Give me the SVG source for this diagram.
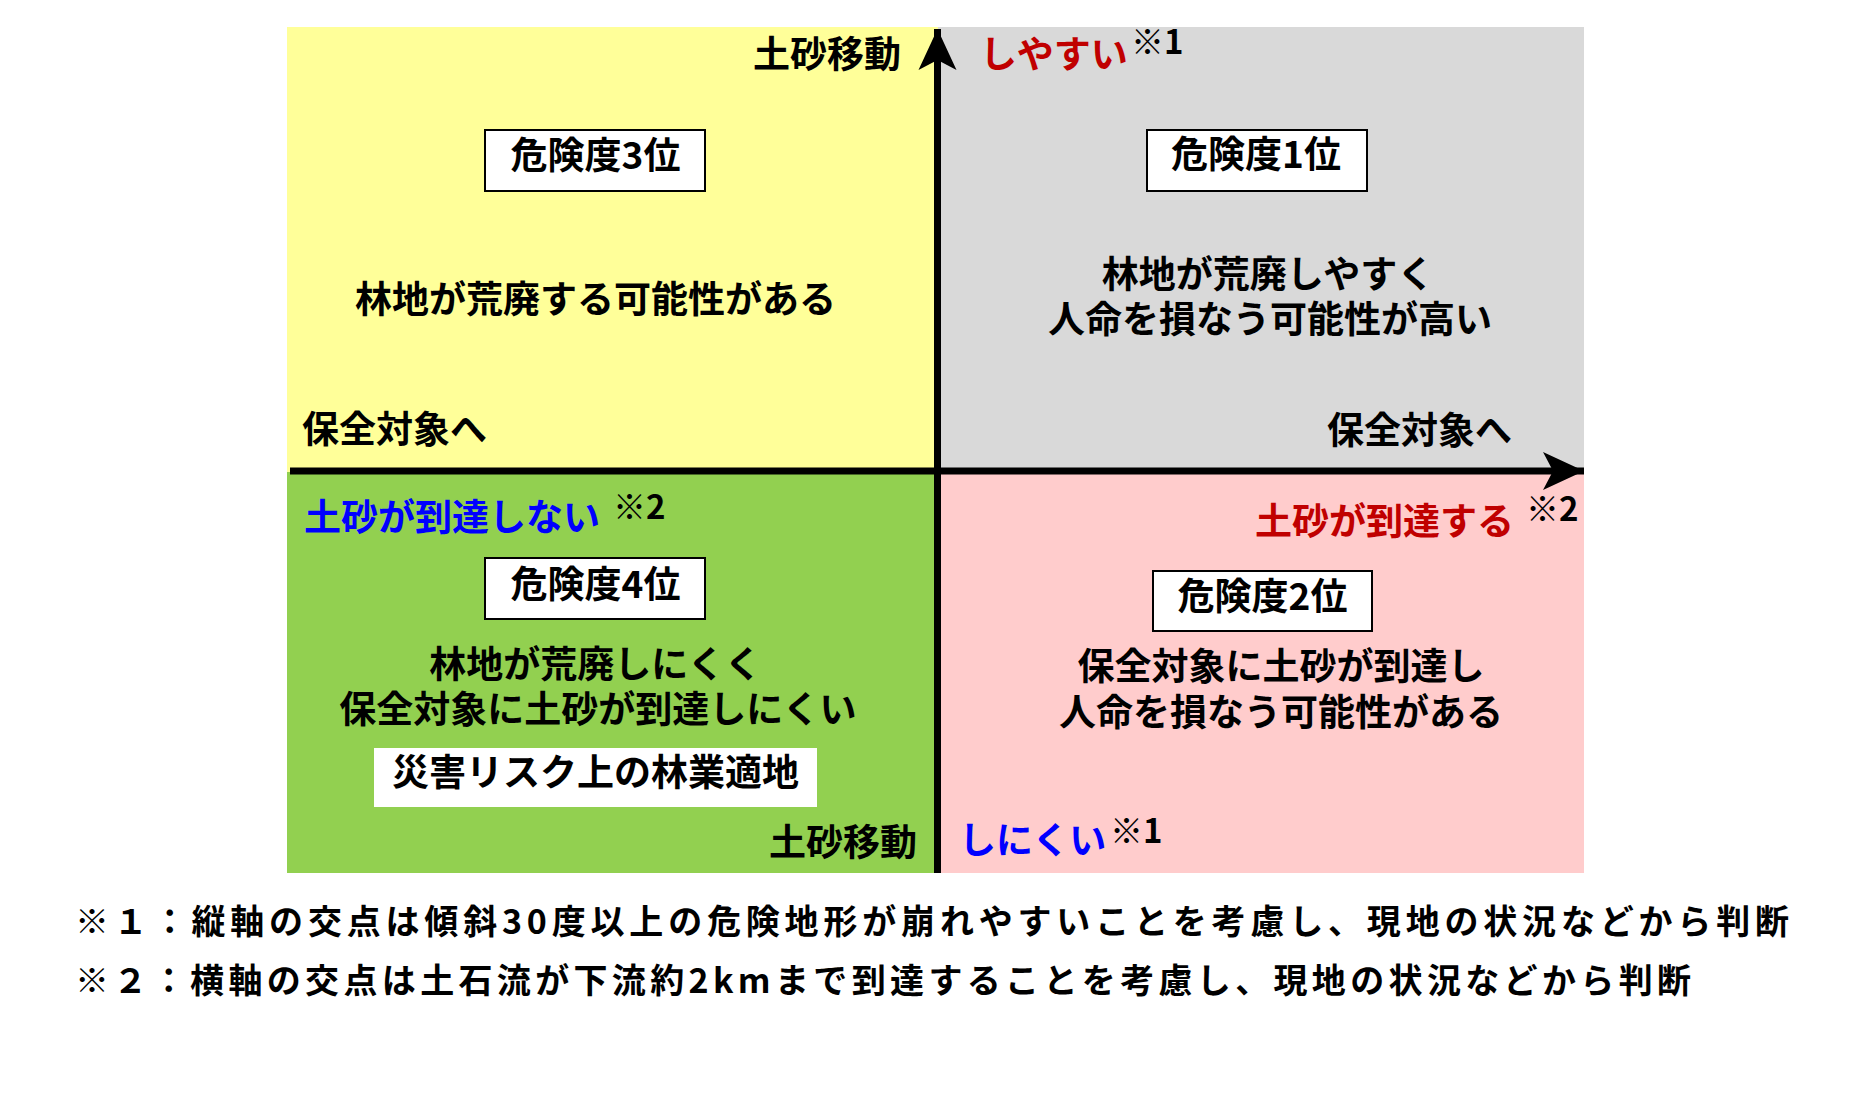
<svg xmlns="http://www.w3.org/2000/svg" width="1860" height="1110" viewBox="0 0 1860 1110">
<style>
.t{font-family:"Noto Sans CJK JP","Noto Sans CJK SC",sans-serif;font-weight:700;font-size:37px;fill:#000}
.m{text-anchor:middle}
.e{text-anchor:end}
.sup{font-family:"Noto Sans CJK JP","Noto Sans CJK SC",sans-serif;font-weight:700;font-size:33px;fill:#000}
.red{fill:#C00000}
.blue{fill:#0000FF}
.box{fill:#fff;stroke:#000;stroke-width:2}
.axis{stroke:#000;stroke-width:7;fill:none}
.note{font-family:"Noto Sans CJK JP","Noto Sans CJK SC",sans-serif;font-weight:700;font-size:34px;fill:#000}
</style>
<defs>
<marker id="arr" markerUnits="userSpaceOnUse" viewBox="0 0 42 40" refX="41" refY="20" markerWidth="42" markerHeight="40" orient="auto">
<path d="M41,20 L0,1 L10,20 L0,39 Z" fill="#000"/>
</marker>
</defs>
<rect width="1860" height="1110" fill="#fff"/>
<g id="q-upper-left">
<rect x="287" y="27" width="651" height="445" fill="#FFFF99"/>
<rect class="box" x="485" y="130" width="220" height="61"/>
<text class="t m" x="595.5" y="169">危険度3位</text>
<text class="t m" x="595.5" y="313">林地が荒廃する可能性がある</text>
<text class="t" x="302" y="443">保全対象へ</text>
<text class="t e" x="901" y="68">土砂移動</text>
</g>
<g id="q-upper-right">
<rect x="938" y="27" width="646" height="445" fill="#D9D9D9"/>
<rect class="box" x="1147" y="130" width="220" height="61"/>
<text class="t m" x="1256" y="168">危険度1位</text>
<text class="t m" x="1268" y="288">林地が荒廃しやすく<tspan x="1270" y="333">人命を損なう可能性が高い</tspan></text>
<text class="t e" x="1512" y="444">保全対象へ</text>
<text class="t red" x="980" y="68">しやすい</text>
<text class="sup" x="1131" y="54">※1</text>
</g>
<g id="q-lower-left">
<rect x="287" y="472" width="651" height="401" fill="#92D050"/>
<text class="t blue" x="304" y="531">土砂が到達しない</text>
<text class="sup" x="613" y="519">※2</text>
<rect class="box" x="485" y="558" width="220" height="61"/>
<text class="t m" x="595.5" y="598">危険度4位</text>
<text class="t m" x="595.5" y="678">林地が荒廃しにくく<tspan x="598" y="723">保全対象に土砂が到達しにくい</tspan></text>
<rect x="374" y="748" width="443" height="59" fill="#fff"/>
<text class="t m" x="595.5" y="786">災害リスク上の林業適地</text>
<text class="t e" x="917" y="856">土砂移動</text>
</g>
<g id="q-lower-right">
<rect x="938" y="472" width="646" height="401" fill="#FFCCCC"/>
<text class="t e red" x="1514" y="535">土砂が到達する</text>
<text class="sup" x="1526" y="521">※2</text>
<rect class="box" x="1153" y="571" width="219" height="60"/>
<text class="t m" x="1262.5" y="610">危険度2位</text>
<text class="t m" x="1281" y="680">保全対象に土砂が到達し<tspan x="1281" y="726">人命を損なう可能性がある</tspan></text>
<text class="t blue" x="959" y="854">しにくい</text>
<text class="sup" x="1110" y="843">※1</text>
</g>
<g id="connectors">
<line class="axis" x1="937.5" y1="873" x2="937.5" y2="29" marker-end="url(#arr)"/>
<line class="axis" x1="290" y1="471" x2="1584" y2="471" marker-end="url(#arr)"/>
</g>
<g id="notes">
<text class="note" x="75" y="934" textLength="1714" lengthAdjust="spacing">※１：縦軸の交点は傾斜30度以上の危険地形が崩れやすいことを考慮し、現地の状況などから判断</text>
<text class="note" x="75" y="993" textLength="1616" lengthAdjust="spacing">※２：横軸の交点は土石流が下流約2kmまで到達することを考慮し、現地の状況などから判断</text>
</g>
</svg>
